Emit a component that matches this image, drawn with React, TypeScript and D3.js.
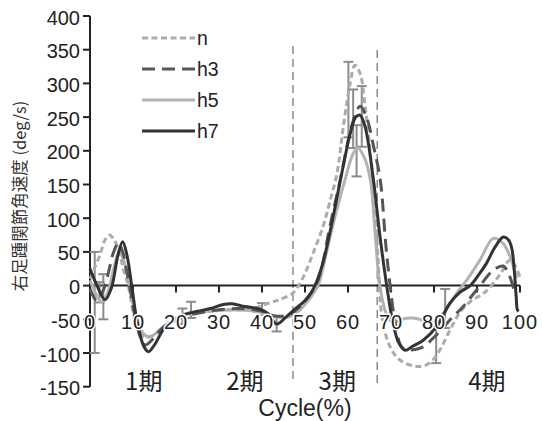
import React from "react";
import * as d3 from "d3";

// ---- data (cycle %, deg/s) ----
const seriesNames = ["n", "h3", "h5", "h7"];

const nData: [number, number][] = [
  [0, 10], [1, 25], [2.3, 45], [3.5, 68], [4.5, 75], [5.6, 68], [6.8, 50], [7.8, 23], [8.9, 0],
  [10.5, -51], [12.4, -76], [14.3, -75], [17.4, -61], [20.5, -50], [24, -42], [28, -38],
  [32, -36], [36, -36], [39, -32], [42, -25], [44, -21], [47, -12], [48.5, 0], [50, 18],
  [52, 50], [54.3, 90], [56, 130], [57.4, 165], [59, 240], [60.5, 300], [61.6, 327],
  [62.8, 315], [64, 265], [65.3, 190], [66.3, 130], [67, 40], [68, -51], [69.8, -91],
  [72, -110], [76, -120], [79, -115], [81.4, -95], [83.7, -66], [86, -40], [88.4, -24],
  [92, -9], [95.3, 16], [97.7, 38], [99, 28], [100, 12],
];

const h3Data: [number, number][] = [
  [0, -5], [1.5, -22], [2.5, -15], [3.5, 0], [4.5, 25], [5.4, 48], [6.6, 63], [7.6, 50],
  [8.5, 23], [9.7, -18], [11, -62], [12.8, -88], [14.5, -80], [17, -62], [20, -50],
  [25, -41], [30, -36], [35, -34], [40, -38], [43, -45], [46, -44], [48.5, -33], [50.5, -18],
  [52.5, 0], [54, 30], [55.7, 85], [58.3, 160], [61, 240], [62.8, 266], [64.3, 250],
  [66, 205], [67.5, 157], [68.8, 60], [69.8, 0], [71, -55], [72.8, -93], [76.7, -93],
  [80.6, -73], [83.7, -51], [86.8, -31], [90.7, 0], [93.8, 23], [96.1, 29], [97.5, 15],
  [99, -15],
];

const h5Data: [number, number][] = [
  [0, 8], [1.2, -10], [2.6, -24], [4, -12], [5.5, 25], [6.8, 50], [7.8, 38], [9, 5],
  [10.5, -40], [12.5, -72], [14, -76], [16.5, -64], [19, -52], [22, -42], [26, -39],
  [30, -37], [34, -36], [38, -38], [41, -43], [44, -47], [46.5, -46], [48.5, -38],
  [51, -20], [53, 0], [54.5, 35], [56.3, 85], [59.3, 157], [61.2, 196], [62.3, 204],
  [63.8, 190], [65.2, 157], [66.4, 70], [67.4, 0], [68.8, -40], [70.3, -55], [72.4, -50],
  [75, -48], [77.5, -51], [80, -51], [82.2, -41], [85.3, -11], [87.6, 8], [90.7, 38],
  [93.8, 70], [96, 63], [97.7, 43], [99.2, 11],
];

const h7Data: [number, number][] = [
  [0, 25], [1.5, 2], [3.5, -21], [5, -3], [6.5, 45], [7.6, 65], [8.6, 45], [9.7, 0],
  [11, -55], [12.5, -90], [13.6, -98], [15, -88], [17.4, -62], [20, -50], [22.5, -42],
  [25, -38], [28, -34], [31, -28], [33, -27], [36, -31], [39.5, -35], [41.5, -42],
  [43.4, -57], [45.7, -46], [48, -33], [50.4, -20], [52.3, 0], [54, 30], [56, 85],
  [58.5, 165], [60.5, 225], [61.8, 250], [62.8, 253], [64, 235], [65.9, 157], [67.5, 70],
  [69, 0], [70.3, -50], [71.8, -85], [73.3, -96], [75, -90], [77.5, -81], [80.6, -61],
  [83.7, -26], [86, -10], [88.4, 0], [90.5, 17], [92.2, 33], [94, 55], [96.1, 72],
  [97.3, 68], [98.1, 55], [98.7, 20], [99.1, -15], [99.4, -36], [99.7, -38],
];

// error bars: [cycle, low, high]
const errorBars: [number, number, number][] = [
  [1.1, -100, 50], [2.2, -25, 5], [3.1, -50, 17], [21.5, -57, -34], [23.5, -48, -24],
  [40, -43, -26], [43.4, -68, -46], [60.1, 220, 332], [61.2, 204, 291], [62, 162, 238],
  [63.2, 206, 296], [80.5, -115, -60], [82.6, -63, -5],
];

const phaseBoundaries = [47.2, 66.8];
const phaseLabels = ["1期", "2期", "3期", "4期"];
const phaseLabelX = [12.5, 36, 57.5, 92.3];

const yTicks = [-150, -100, -50, 0, 50, 100, 150, 200, 250, 300, 350, 400];
const xTicks = [0, 10, 20, 30, 40, 50, 60, 70, 80, 90, 100];

const styles: Record<string, { color: string; dash: string }> = {
  n: { color: "#ababab", dash: "6,3.5" },
  h3: { color: "#555555", dash: "13,7" },
  h5: { color: "#b3b3b3", dash: "" },
  h7: { color: "#333333", dash: "" },
};

export default function App() {
  const W = 542, H = 421;
  const x = d3.scaleLinear().domain([0, 100]).range([90, 520]);
  const y = d3.scaleLinear().domain([-150, 400]).range([386.7, 16]);
  const line = d3
    .line<[number, number]>()
    .x((d) => x(d[0]))
    .y((d) => y(d[1]))
    .curve(d3.curveCatmullRom.alpha(0.5));

  const dataMap: Record<string, [number, number][]> = { n: nData, h3: h3Data, h5: h5Data, h7: h7Data };
  const drawOrder = ["h5", "n", "h3", "h7"];
  const numFont = "'Liberation Sans', Arial, sans-serif";

  return (
    <svg width={W} height={H} style={{ position: "absolute", left: 0, top: 0, background: "#fff" }}>
      {/* phase boundaries */}
      {phaseBoundaries.map((c, i) => (
        <line key={"pb" + i} x1={x(c)} x2={x(c)} y1={i === 0 ? 46 : 50} y2={384}
          stroke="#8a8a8a" strokeWidth={1.5} strokeDasharray="8,5" />
      ))}

      {/* axes */}
      <line x1={x(0)} x2={x(0)} y1={y(400)} y2={y(-150)} stroke="#222" strokeWidth={2} />
      <line x1={x(0)} x2={x(100)} y1={y(0)} y2={y(0)} stroke="#222" strokeWidth={2} />
      {yTicks.map((t) => (
        <line key={"yt" + t} x1={x(0) - 7} x2={x(0)} y1={y(t)} y2={y(t)} stroke="#222" strokeWidth={2} />
      ))}
      {xTicks.filter((t) => t > 0).map((t) => (
        <line key={"xt" + t} x1={x(t)} x2={x(t)} y1={y(0)} y2={y(0) + 7} stroke="#222" strokeWidth={2} />
      ))}

      {/* error bars */}
      {errorBars.map(([c, lo, hi], i) => (
        <g key={"eb" + i} stroke="#8c8c8c" strokeWidth={2}>
          <line x1={x(c)} x2={x(c)} y1={y(lo)} y2={y(hi)} />
          <line x1={x(c) - 5} x2={x(c) + 5} y1={y(lo)} y2={y(lo)} />
          <line x1={x(c) - 5} x2={x(c) + 5} y1={y(hi)} y2={y(hi)} />
        </g>
      ))}

      {/* series */}
      {drawOrder.map((k) => (
        <path key={k} d={line(dataMap[k]) || ""} fill="none" stroke={styles[k].color}
          strokeWidth={3} strokeDasharray={styles[k].dash || undefined} />
      ))}

      {/* y tick labels */}
      {yTicks.map((t) => (
        <text key={"yl" + t} x={x(0) - 10} y={y(t) + 8.5} textAnchor="end" fontFamily={numFont}
          fontSize={20} fill="#222">{t}</text>
      ))}
      {/* x tick labels with white halo */}
      {xTicks.map((t) => (
        <text key={"xl" + t} x={x(t)} y={328.5} textAnchor="middle" fontFamily={numFont}
          fontSize={20} letterSpacing={1} fill="#222" stroke="#fff" strokeWidth={3} paintOrder="stroke">{t}</text>
      ))}

      {/* phase labels */}
      {phaseLabels.map((s, i) => (
        <text key={"pl" + i} x={x(phaseLabelX[i])} y={390} textAnchor="middle"
          fontFamily="'Noto Sans CJK JP', sans-serif" fontSize={24} fill="#222">{s}</text>
      ))}

      {/* axis titles */}
      <text x={305} y={416} textAnchor="middle" fontFamily={numFont} fontSize={23} fill="#222">Cycle(%)</text>
      <text transform={`translate(26,196) rotate(-90)`} textAnchor="middle"
        fontFamily="'Noto Sans CJK JP', sans-serif" fontSize={16.5} fill="#333">右足踵関節角速度 (deg/s)</text>

      {/* legend */}
      {seriesNames.map((k, i) => (
        <g key={"lg" + k}>
          <line x1={142} x2={195} y1={38 + i * 31} y2={38 + i * 31} stroke={styles[k].color}
            strokeWidth={3} strokeDasharray={styles[k].dash || undefined} />
          <text x={197} y={38 + i * 31 + 7} fontFamily={numFont} fontSize={19.5} fill="#222">{k}</text>
        </g>
      ))}
    </svg>
  );
}
